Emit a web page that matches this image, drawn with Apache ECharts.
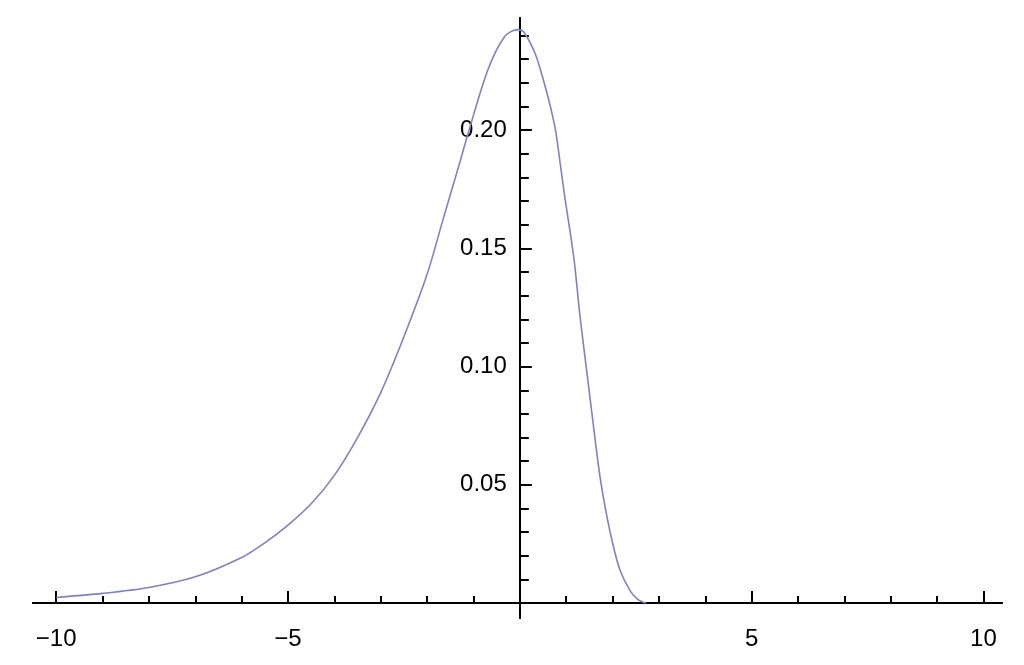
<!DOCTYPE html>
<html>
<head>
<meta charset="utf-8">
<script src="https://cdn.jsdelivr.net/npm/echarts@6/dist/echarts.min.js"></script>
<style>
  html, body { margin: 0; padding: 0; background: #fff; }
  #chart { width: 1024px; height: 665px; }
</style>
</head>
<body>
<div id="chart"></div>
<script>
// curve
const xValues = [-10, -9, -8, -7, -6, -5.5, -5, -4.5, -4, -3.5, -3, -2.5, -2, -1.64, -1.28, -1.14, -0.69, -0.33, -0.05,
  0.08, 0.33, 0.51, 0.66, 0.77, 0.87, 0.98, 1.09, 1.18, 1.3, 1.45, 1.59, 1.73, 1.88, 2.02, 2.16, 2.38, 2.55, 2.72];
const yValues = [0.0024, 0.0041, 0.0066, 0.0111, 0.0193, 0.0255, 0.033, 0.042, 0.054, 0.070, 0.089, 0.1126, 0.139, 0.1633, 0.1873, 0.197, 0.2254, 0.2395, 0.2425,
  0.2416, 0.2324, 0.2211, 0.2099, 0.200, 0.186, 0.1704, 0.1563, 0.1436, 0.121, 0.097, 0.0746, 0.0534, 0.0365, 0.0238, 0.014, 0.0052, 0.0015, 0];

const xMajorTicks = [-10, -5, 5, 10];
const xMinorTicks = [-9, -8, -7, -6, -4, -3, -2, -1, 1, 2, 3, 4, 6, 7, 8, 9];
const yMajorTicks = [0.05, 0.10, 0.15, 0.20];
const yMinorTicks = [0.01, 0.02, 0.03, 0.04, 0.06, 0.07, 0.08, 0.09, 0.11, 0.12, 0.13, 0.14,
  0.16, 0.17, 0.18, 0.19, 0.21, 0.22, 0.23, 0.24];

const xMin = -10.5, xMax = 10.4;
const yMin = -0.0063, yMax = 0.2474;

const chart = echarts.init(document.getElementById('chart'));

const lineStyle = { color: '#000', width: 2 };
const labelFont = { fontFamily: 'Liberation Sans', fontSize: 24, color: '#000' };

// plot area
const plotLeft = 33, plotWidth = 969, plotTop = 18, plotHeight = 600;
// pixel of x = 0, the y labels sit in a second grid starting there
const zeroX = plotLeft + (0 - xMin) / (xMax - xMin) * plotWidth;

function makeX(ticks, len, withLabels) {
  return {
    type: 'value',
    gridIndex: 0,
    position: 'bottom',
    min: xMin,
    max: xMax,
    axisLine: { show: true, onZero: true, onZeroAxisIndex: 0, lineStyle: lineStyle },
    axisTick: { show: true, inside: true, length: len, customValues: ticks, lineStyle: lineStyle },
    axisLabel: Object.assign({
      show: withLabels,
      margin: 9,
      customValues: ticks,
      formatter: function (v) { return String(v).replace('-', '\u2212'); }
    }, labelFont),
    splitLine: { show: false }
  };
}

function makeY(ticks, len) {
  return {
    type: 'value',
    gridIndex: 0,
    position: 'left',
    min: yMin,
    max: yMax,
    axisLine: { show: true, onZero: true, onZeroAxisIndex: 0, lineStyle: lineStyle },
    axisTick: { show: true, inside: true, length: len, customValues: ticks, lineStyle: lineStyle },
    axisLabel: { show: false },
    splitLine: { show: false }
  };
}

const points = xValues.map(function (x, i) { return [x, yValues[i]]; });

chart.setOption({
  animation: false,
  backgroundColor: '#fff',
  grid: [
    { left: plotLeft, width: plotWidth, top: plotTop, height: plotHeight, containLabel: false, outerBoundsMode: 'none' },
    { left: zeroX, right: 0, top: plotTop, height: plotHeight, containLabel: false, outerBoundsMode: 'none' }
  ],
  xAxis: [
    makeX(xMajorTicks, 12, true),
    makeX(xMinorTicks, 7, false),
    { type: 'value', gridIndex: 1, show: false, min: 0, max: 1 }
  ],
  yAxis: [
    makeY(yMajorTicks, 12),
    makeY(yMinorTicks, 9),
    {
      type: 'value',
      gridIndex: 1,
      position: 'left',
      min: yMin,
      max: yMax,
      axisLine: { show: false, onZero: false },
      axisTick: { show: false },
      axisLabel: Object.assign({
        show: true,
        margin: 13,
        customValues: yMajorTicks,
        formatter: function (v) { return v.toFixed(2); }
      }, labelFont),
      splitLine: { show: false }
    }
  ],
  series: [{
    type: 'line',
    xAxisIndex: 0,
    yAxisIndex: 0,
    data: points,
    smooth: 0.3,
    showSymbol: false,
    lineStyle: { color: '#8080c8', width: 1.6 },
    z: 1
  }]
});
</script>
</body>
</html>
